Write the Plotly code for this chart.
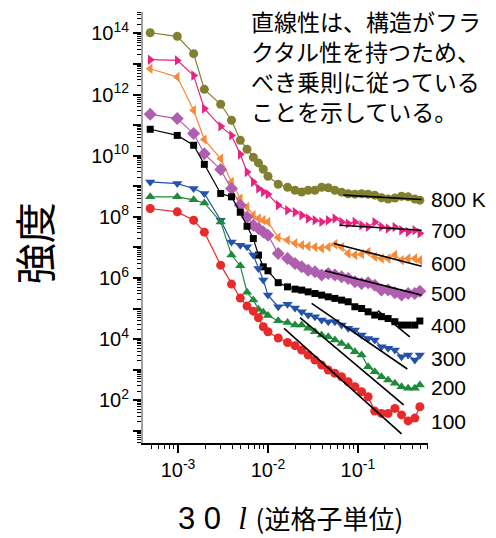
import numpy as np
import plotly.graph_objects as go

# Scattering vector (reciprocal lattice units), shared by all temperatures
q = [0.00049, 0.00098, 0.00149, 0.00196, 0.00298, 0.00393, 0.00492, 0.00585,
     0.00687, 0.00784, 0.00887, 0.0100, 0.0130, 0.0165, 0.0200, 0.0237,
     0.0280, 0.0333, 0.0395, 0.0468, 0.0555, 0.0659, 0.0780, 0.0926,
     0.110, 0.130, 0.154, 0.183, 0.217, 0.258, 0.306, 0.362, 0.430, 0.489]

# Intensity curves (vertically offset per temperature)
I_800 = [1.05e14, 8.0e13, 2.17e13, 1.48e12, 4.8e11, 1.44e11, 3.2e10, 1.62e10,
         8.9e9, 5.8e9, 3.6e9, 2.12e9, 1.16e9, 9.3e8, 7.4e8, 6.5e8, 7.4e8, 7.4e8,
         9.3e8, 8.9e8, 7.4e8, 6.4e8, 5.7e8, 5.5e8, 5.7e8, 5.5e8, 5.1e8, 4.2e8,
         3.8e8, 4.1e8, 4.7e8, 4.5e8, 3.8e8, 3.5e8]
I_700 = [1.38e13, 1.31e13, 4.2e12, 3.46e11, 9.1e10, 4.6e10, 1.11e10, 2.93e9,
         1.38e9, 8.4e8, 6.5e8, 5.5e8, 2.39e8, 1.64e8, 1.41e8, 1.13e8, 8.8e7, 7.7e7,
         6.8e7, 7.7e7, 8.8e7, 6.8e7, 6.0e7, 6.8e7, 5.3e7, 4.7e7, 6.7e7, 4.7e7,
         4.15e7, 4.6e7, 3.65e7, 3.2e7, 3.65e7, 2.9e7]
I_600 = [7.0e12, 3.73e12, 3.05e11, 3.36e10, 8.0e9, 1.38e9, 3.96e8, 2.11e8,
         1.13e8, 8.8e7, 7.7e7, 6.8e7, 2.11e7, 1.72e7, 1.37e7, 1.18e7, 1.09e7, 1.02e7,
         9.4e6, 1.02e7, 1.27e7, 1.02e7, 6.3e6, 5.6e6, 6.0e6, 7.1e6, 4.9e6, 4.3e6,
         4.3e6, 5.6e6, 3.8e6, 4.3e6, 4.3e6, 3.8e6]
I_500 = [2.25e11, 1.63e11, 5.3e10, 1.15e10, 3.5e9, 8.4e8, 2.39e8, 9.9e7,
         5.3e7, 4.15e7, 3.2e7, 2.5e7, 6.3e6, 4.3e6, 2.98e6, 2.31e6, 1.8e6, 1.58e6,
         1.24e6, 1.4e6, 1.24e6, 1.09e6, 9.6e5, 7.5e5, 6.6e5, 6.9e5, 5.8e5, 4.0e5,
         4.0e5, 3.26e5, 2.74e5, 3.1e5, 3.1e5, 3.7e5]
I_400 = [7.3e10, 4.6e10, 2.19e10, 5.2e9, 5.8e8, 4.5e8, 1.41e8, 4.9e7,
         1.95e7, 5.6e6, 2.31e6, 1.71e6, 7.0e5, 5.1e5, 4.3e5, 4.0e5, 3.5e5, 3.1e5,
         2.74e5, 2.41e5, 2.14e5, 1.88e5, 1.66e5, 1.14e5, 1.0e5, 7.8e4, 6.1e4, 5.4e4,
         4.7e4, 3.7e4, 2.87e4, 2.87e4, 2.87e4, 3.9e4]
I_300 = [1.38e9, 1.22e9, 8.4e8, 5.8e8, 7.7e7, 1.51e7, 1.18e7, 1.04e7,
         5.6e6, 2.04e6, 8.5e5, 2.74e5, 1.14e5, 1.39e5, 1.03e5, 7.8e4, 6.1e4, 5.4e4,
         4.2e4, 3.7e4, 3.7e4, 2.87e4, 2.24e4, 1.97e4, 1.35e4, 1.05e4, 9.3e3, 5.6e3,
         5.0e3, 4.4e3, 2.64e3, 3.0e3, 2.06e3, 3.0e3]
I_200 = [4.5e8, 4.5e8, 3.6e8, 2.84e8, 6.8e7, 5.6e6, 2.52e6, 3.4e5,
         1.88e5, 9.5e4, 7.6e4, 5.9e4, 4.0e4, 3.46e4, 2.87e4, 2.87e4, 2.24e4, 1.73e4,
         1.35e4, 1.19e4, 9.3e3, 7.2e3, 5.6e3, 3.85e3, 3.0e3, 1.24e3, 853, 586,
         457, 356, 276, 245, 245, 314]
I_100 = [1.87e8, 1.45e8, 7.7e7, 3.14e7, 2.62e6, 6.3e5, 2.19e5, 1.2e5,
         8.2e4, 5.0e4, 2.52e4, 1.73e4, 1.08e4, 7.7e3, 6.1e3, 4.4e3, 3.0e3, 2.06e3,
         1.41e3, 970, 757, 586, 403, 276, 190, 130, 44, 37,
         37, 54, 33, 21, 26, 61]

temp_labels = ["800 K", "700", "600", "500", "400", "300", "200", "100"]
curves = [I_800, I_700, I_600, I_500, I_400, I_300, I_200, I_100]

# Power-law fit segments (start/end of each straight line)
fit_q0 = [0.0687, 0.0631, 0.0541, 0.0430, 0.167, 0.0306, 0.0227, 0.0151]
fit_q1 = [0.511, 0.511, 0.511, 0.511, 0.378, 0.355, 0.323, 0.306]
fit_I0 = [5.1e8, 5.3e7, 1.34e7, 1.71e6, 8.5e4, 1.47e5, 5.0e4, 2.24e4]
fit_I1 = [3.67e8, 3.65e7, 2.43e6, 2.74e5, 1.19e4, 1.05e3, 70, 7.9]

# Vertical placement of the temperature labels on the right
label_I = [3.76e8, 3.65e7, 3.05e6, 3.18e5, 2.87e4, 2.39e3, 251, 19.4]

colors = ["#80802E", "#E8237F", "#F58A3A", "#B05FB0", "#000000",
          "#2352A8", "#1E8A3A", "#E82A2A"]
symbols = ["circle", "triangle-right", "triangle-left", "diamond", "square",
           "triangle-down", "triangle-up", "circle"]
sizes = [9, 9, 9, 10, 7, 9, 9, 9]

fig = go.Figure()

for I, c, s, sz in zip(curves, colors, symbols, sizes):
    fig.add_trace(go.Scatter(
        x=q, y=I, mode="lines+markers",
        line=dict(color=c, width=1.2),
        marker=dict(symbol=s, size=sz, color=c, line=dict(width=0)),
        hoverinfo="skip",
    ))

for a0, a1, b0, b1 in zip(fit_q0, fit_q1, fit_I0, fit_I1):
    fig.add_trace(go.Scatter(
        x=[a0, a1], y=[b0, b1], mode="lines",
        line=dict(color="black", width=1.6), hoverinfo="skip",
    ))

annotations = []
for lab, yv in zip(temp_labels, label_I):
    annotations.append(dict(
        x=1.0, xref="paper", y=np.log10(yv), yref="y",
        text=lab, showarrow=False, xanchor="left", yanchor="middle", xshift=1,
        font=dict(size=21, color="black", family="Liberation Sans, Arial"),
    ))

note = ("直線性は、構造がフラ<br>クタル性を持つため、<br>"
        "べき乗則に従っている<br>ことを示している。")
annotations.append(dict(
    x=0.372, xref="paper", y=1.0, yref="paper", text=note, showarrow=False,
    xanchor="left", yanchor="top", align="left", yshift=10,
    font=dict(size=23, color="black", family="Noto Sans CJK JP"),
))

annotations.append(dict(
    x=-0.385, xref="paper", y=0.464, yref="paper", text="強度",
    textangle=-90, showarrow=False, xanchor="center", yanchor="middle",
    font=dict(size=41, color="black", family="Noto Sans CJK JP"),
))

xtitle = ('<span style="font-family:Liberation Sans">3\u00a00</span>'
          '\u00a0\u00a0<span style="font-family:Liberation Serif"><i>l</i></span>'
          '\u00a0<span style="font-size:26px;font-family:Noto Sans CJK JP">(逆格子単位)</span>')
annotations.append(dict(
    x=0.5175, xref="paper", y=-0.174, yref="paper", text=xtitle,
    showarrow=False, xanchor="center", yanchor="middle",
    font=dict(size=31, color="black", family="Liberation Sans"),
))

x_minor = [m * 10.0 ** k for k in range(-4, 0) for m in range(2, 10)]
y_minor = [m * 10.0 ** k for k in range(0, 15) for m in range(2, 10)]
y_major = [10.0 ** k for k in range(1, 15)]
y_text = [f"10<sup>{k}</sup>" if k % 2 == 0 else "" for k in range(1, 15)]

fig.update_layout(
    width=496, height=538,
    margin=dict(l=143, r=68, t=12, b=95),
    plot_bgcolor="white", paper_bgcolor="white",
    showlegend=False,
    font=dict(family="Liberation Sans, Arial", color="black"),
    annotations=annotations,
    xaxis=dict(
        type="log", range=[-3.39, -0.22],
        showline=True, linecolor="black", linewidth=2,
        ticks="outside", ticklen=8, tickwidth=1.5, tickcolor="black",
        tickmode="array", tickvals=[1e-3, 1e-2, 1e-1],
        ticktext=["10<sup>-3</sup>", "10<sup>-2</sup>", "10<sup>-1</sup>"],
        tickfont=dict(size=20, color="black"),
        showgrid=False, zeroline=False,
        minor=dict(tickmode="array", tickvals=x_minor, ticks="outside",
                   ticklen=4, tickwidth=1.2, tickcolor="black", showgrid=False),
    ),
    yaxis=dict(
        type="log", range=[0.6, 14.7],
        showline=True, linecolor="#A0A0A0", linewidth=2,
        ticks="outside", ticklen=8, tickwidth=1.5, tickcolor="black",
        tickmode="array", tickvals=y_major, ticktext=y_text,
        tickfont=dict(size=20, color="black"),
        showgrid=False, zeroline=False,
        minor=dict(tickmode="array", tickvals=y_minor, ticks="outside",
                   ticklen=4, tickwidth=1.2, tickcolor="black", showgrid=False),
    ),
)

fig.write_html("out.html")
